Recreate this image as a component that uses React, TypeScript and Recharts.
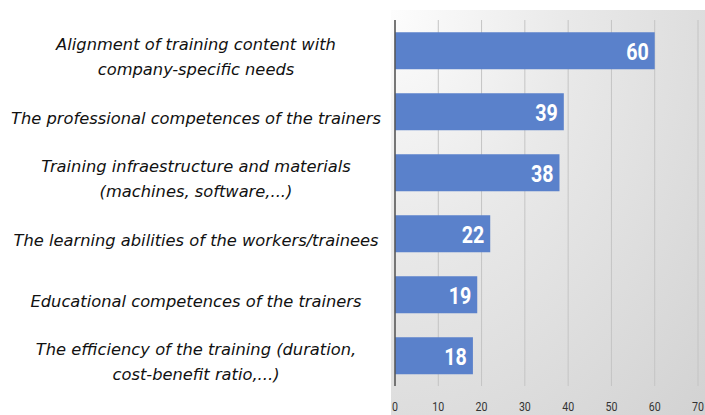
import { Bar, BarChart, CartesianGrid, LabelList, XAxis, YAxis } from "recharts";

const categories = [
  "Alignment of training content with\ncompany-specific needs",
  "The professional competences of the trainers",
  "Training infraestructure and materials\n(machines, software,...)",
  "The learning abilities of the workers/trainees",
  "Educational competences of the trainers",
  "The efficiency of the training (duration,\ncost-benefit ratio,...)",
];
const values = [60, 39, 38, 22, 19, 18];
const xTicks = [0, 10, 20, 30, 40, 50, 60, 70];

const data = categories.map((name, i) => ({ name, value: values[i] }));

const LABEL_CENTER = 196;

function CategoryTick(props: any) {
  const { y, payload } = props;
  const lines = String(payload.value).split("\n");
  const lineHeight = 25;
  const startY = y + 6 - ((lines.length - 1) * lineHeight) / 2;
  return (
    <text
      x={LABEL_CENTER}
      y={startY}
      textAnchor="middle"
      dominantBaseline="central"
      fontFamily="'DejaVu Sans', Tahoma, sans-serif"
      fontStyle="italic"
      fontSize={16.3}
      fill="#111"
    >
      {lines.map((line, i) => (
        <tspan key={i} x={LABEL_CENTER} y={startY + i * lineHeight}>
          {line}
        </tspan>
      ))}
    </text>
  );
}

function ValueTick(props: any) {
  const { x, y, payload } = props;
  return (
    <g transform={`translate(${x},${y + 21}) scale(0.85,1)`}>
      <text
        x={0}
        y={0}
        textAnchor="middle"
        dominantBaseline="central"
        fontFamily="Roboto, sans-serif"
        fontSize={12.5}
        fill="#333"
      >
        {payload.value}
      </text>
    </g>
  );
}

function BarValue(props: any) {
  const { x, y, width, height, value } = props;
  return (
    <g transform={`translate(${x + width - 6},${y + height / 2 + 1}) scale(0.82,1)`}>
      <text
        x={0}
        y={0}
        textAnchor="end"
        dominantBaseline="central"
        fontFamily="Roboto, sans-serif"
        fontWeight="bold"
        fontSize={24}
        fill="#fff"
      >
        {value}
      </text>
    </g>
  );
}

export default function App() {
  return (
    <div
      style={{
        position: "fixed",
        left: 0,
        top: 0,
        width: 705,
        height: 415,
        background: "#fff",
        overflow: "hidden",
      }}
    >
      <div
        style={{
          position: "absolute",
          left: 391,
          top: 10,
          width: 314,
          height: 405,
          background:
            "radial-gradient(ellipse at 0% 0%, #fdfdfd 0%, #e9e9e9 40%, #d2d2d2 100%)",
        }}
      />
      <BarChart
        width={705}
        height={415}
        data={data}
        layout="vertical"
        margin={{ top: 20, right: 7, bottom: 0, left: 0 }}
        barCategoryGap="20%"
      >
        <CartesianGrid horizontal={false} stroke="#c4c4c4" />
        <XAxis
          type="number"
          domain={[0, 70]}
          ticks={xTicks}
          height={29}
          axisLine={false}
          tickLine={false}
          tickSize={0}
          tickMargin={0}
          tick={<ValueTick />}
          interval={0}
        />
        <YAxis
          type="category"
          dataKey="name"
          width={395}
          axisLine={{ stroke: "#555", strokeWidth: 1.5 }}
          tickLine={false}
          tick={<CategoryTick />}
          interval={0}
        />
        <Bar dataKey="value" fill="#5a81cb" isAnimationActive={false}>
          <LabelList dataKey="value" content={<BarValue />} />
        </Bar>
      </BarChart>
    </div>
  );
}
